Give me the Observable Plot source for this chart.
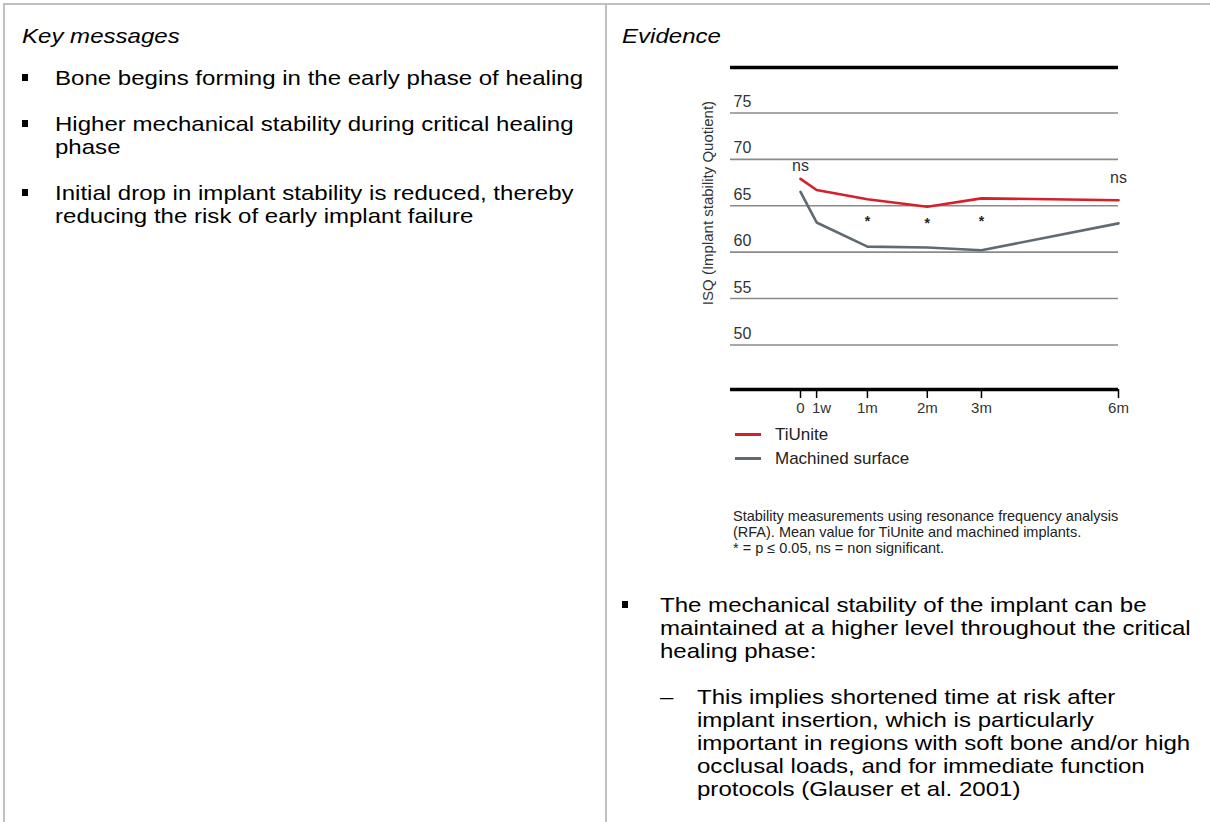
<!DOCTYPE html>
<html><head><meta charset="utf-8">
<script src="https://cdn.jsdelivr.net/npm/d3@7"></script>
<script src="https://cdn.jsdelivr.net/npm/@observablehq/plot@0.6"></script>
<style>
html,body{margin:0;padding:0;background:#fff;}
body{width:1210px;height:822px;position:relative;overflow:hidden;font-family:"Liberation Sans",Arial,sans-serif;color:#000;}
.bt{position:absolute;left:3px;top:3px;width:1207px;height:0;border-top:2px solid #c0c0c0;}
.bl{position:absolute;left:3px;top:3px;width:0;height:819px;border-left:2px solid #c0c0c0;}
.dv{position:absolute;left:605px;top:3px;width:0;height:819px;border-left:2px solid #c0c0c0;}
.t{position:absolute;font-size:21px;line-height:23px;white-space:nowrap;transform:scaleX(1.145);transform-origin:0 0;color:#000;}
.i{font-style:italic;}
.sq{position:absolute;width:6px;height:7px;background:#000;}
#chart{position:absolute;left:690px;top:40px;}
.ylab{position:absolute;left:707px;top:203px;font-size:15px;color:#333;white-space:nowrap;transform:translate(-50%,-50%) rotate(-90deg);}
.leg{position:absolute;left:735px;font-size:17px;color:#222;white-space:nowrap;}
.leg span.sw{display:inline-block;width:26px;height:0;border-top:3px solid;vertical-align:middle;margin-right:14px;position:relative;top:-1px;}
.cap{position:absolute;left:733px;top:508px;font-size:14.5px;line-height:16px;color:#222;white-space:nowrap;}
</style>
</head><body>
<div class="bt"></div><div class="bl"></div><div class="dv"></div>

<div class="t i" style="left:22px;top:24px;">Key messages</div>
<div class="sq" style="left:22px;top:74px;"></div>
<div class="t" style="left:55px;top:66px;">Bone begins forming in the early phase of healing</div>
<div class="sq" style="left:22px;top:120px;"></div>
<div class="t" style="left:55px;top:112px;">Higher mechanical stability during critical healing<br>phase</div>
<div class="sq" style="left:22px;top:189px;"></div>
<div class="t" style="left:55px;top:181px;">Initial drop in implant stability is reduced, thereby<br>reducing the risk of early implant failure</div>

<div class="t i" style="left:622px;top:24px;">Evidence</div>
<div id="chart"></div>
<div class="ylab">ISQ (Implant stability Quotient)</div>
<div id="legend"></div>
<div class="cap">Stability measurements using resonance frequency analysis<br>(RFA). Mean value for TiUnite and machined implants.<br>* = p ≤ 0.05, ns = non significant.</div>

<div class="sq" style="left:622px;top:601px;"></div>
<div class="t" style="left:660px;top:593px;">The mechanical stability of the implant can be<br>maintained at a higher level throughout the critical<br>healing phase:</div>
<div class="t" style="left:660px;top:685px;">–</div>
<div class="t" style="left:697px;top:685px;">This implies shortened time at risk after<br>implant insertion, which is particularly<br>important in regions with soft bone and/or high<br>occlusal loads, and for immediate function<br>protocols (Glauser et al. 2001)</div>

<script>
// ---- data ----
const months = [0, 0.23, 1, 2, 3, 6];
const tickLabels = ["0", "1w", "1m", "2m", "3m", "6m"];
const tiUnite = [67.9, 66.7, 65.7, 64.9, 65.8, 65.6];
const machined = [66.5, 63.2, 60.6, 60.5, 60.2, 63.1];
const seriesNames = ["TiUnite", "Machined surface"];
const seriesColors = ["#d71f2b", "#5e6a74"];
const yTicks = [50, 55, 60, 65, 70, 75];
const sigMonths = [0, 1, 2, 3, 6];
const sigLabels = ["ns", "*", "*", "*", "ns"];
const sigY = [69.3, 63.6, 63.4, 63.6, 68.0];
const yDomain = [45.2, 79.9];

const rows = months.flatMap((m, i) => [
  {m, v: tiUnite[i], s: seriesNames[0]},
  {m, v: machined[i], s: seriesNames[1]}
]);
const sig = sigMonths.map((m, i) => ({m, y: sigY[i], label: sigLabels[i]}));
const label = d => tickLabels[months.indexOf(d)];

const chart = Plot.plot({
  width: 450, height: 395,
  marginLeft: 40, marginRight: 22, marginTop: 27, marginBottom: 46,
  x: {type: "symlog", constant: 8, domain: [0, 6], insetLeft: 70},
  y: {domain: yDomain, axis: null},
  color: {domain: seriesNames, range: seriesColors},
  style: {fontFamily: "Liberation Sans, Arial, sans-serif", background: "transparent", overflow: "visible"},
  marks: [
    Plot.ruleY(yTicks, {stroke: "#8a8a8a", strokeWidth: 1.6}),
    Plot.ruleY([yDomain[1]], {stroke: "#000", strokeWidth: 3.5}),
    Plot.ruleY([yDomain[0]], {stroke: "#000", strokeWidth: 3.5}),
    Plot.text(yTicks, {y: d => d, text: d => String(d), frameAnchor: "left", textAnchor: "start", dx: 3, dy: -11, fontSize: 16, fill: "#333"}),
    Plot.axisX({ticks: months, tickFormat: d => (d === months[1] ? "" : label(d)), tickSize: 9, tickPadding: 4, fontSize: 15, stroke: "#000", strokeWidth: 1.5, fill: "#333", label: null}),
    Plot.text([months[1]], {x: d => d, text: label, frameAnchor: "bottom", lineAnchor: "top", dy: 13, dx: 5, fontSize: 15, fill: "#333"}),
    Plot.line(rows, {x: "m", y: "v", z: "s", stroke: "s", strokeWidth: 2.6}),
    Plot.text(sig.filter(d => d.label === "ns"), {x: "m", y: "y", text: "label", fontSize: 16, fill: "#333"}),
    Plot.text(sig.filter(d => d.label === "*"), {x: "m", y: "y", text: "label", fontSize: 14, fill: "#222", dy: 3, fontWeight: "bold"})
  ]
});
document.getElementById("chart").appendChild(chart);

const legend = document.getElementById("legend");
const legendTops = [425, 449];
seriesNames.forEach((name, i) => {
  const d = document.createElement("div");
  d.className = "leg";
  d.style.top = legendTops[i] + "px";
  d.innerHTML = `<span class="sw" style="border-color:${seriesColors[i]}"></span>${name}`;
  legend.appendChild(d);
});
</script>
</body></html>
